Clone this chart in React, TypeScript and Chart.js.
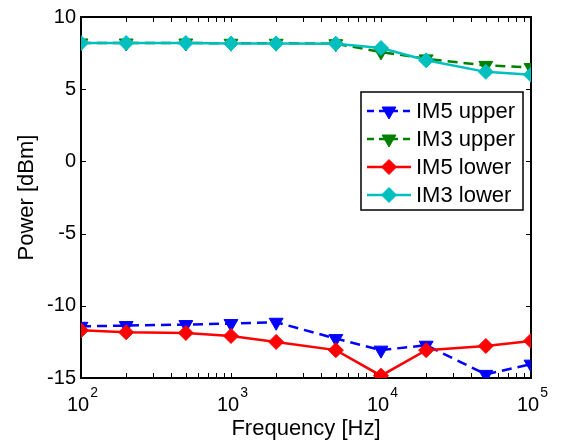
import React, { useEffect, useRef } from 'react';
import { Chart, registerables } from 'chart.js';

Chart.register(...registerables);

const frequencies = [100, 200, 500, 1000, 2000, 5000, 10000, 20000, 50000, 100000];
const im5Upper = [-11.42, -11.37, -11.3, -11.23, -11.14, -12.27, -13.07, -12.73, -14.75, -14.04];
const im3Upper = [8.2, 8.2, 8.2, 8.18, 8.18, 8.15, 7.58, 7.1, 6.65, 6.5];
const im5Lower = [-11.7, -11.83, -11.88, -12.09, -12.5, -13.07, -14.84, -13.07, -12.78, -12.43];
const im3Lower = [8.2, 8.2, 8.2, 8.17, 8.17, 8.15, 7.85, 7.0, 6.2, 6.0];

const seriesLabels = ['IM5 upper', 'IM3 upper', 'IM5 lower', 'IM3 lower'];
const seriesColors = ['#0000ff', '#008000', '#ff0000', '#00bfbf'];
const yTicks = [-15, -10, -5, 0, 5, 10];
const xDecades = [100, 1000, 10000, 100000];
const xExponents = ['2', '3', '4', '5'];
const xLabel = 'Frequency [Hz]';
const yLabel = 'Power [dBm]';

const FONT = '"Liberation Sans", Arial, Helvetica, sans-serif';
const DASH = [10, 6];

function drawMarker(ctx: CanvasRenderingContext2D, style: string, x: number, y: number, r: number, color: string) {
  ctx.save();
  ctx.setLineDash([]);
  ctx.fillStyle = color;
  ctx.strokeStyle = color;
  ctx.lineWidth = 1;
  ctx.beginPath();
  if (style === 'triangle') {
    const h = Math.sin(Math.PI / 3) * r;
    ctx.moveTo(x, y + r);
    ctx.lineTo(x - h, y - r / 2);
    ctx.lineTo(x + h, y - r / 2);
  } else {
    ctx.moveTo(x, y - r);
    ctx.lineTo(x + r, y);
    ctx.lineTo(x, y + r);
    ctx.lineTo(x - r, y);
  }
  ctx.closePath();
  ctx.fill();
  ctx.stroke();
  ctx.restore();
}

const matlabPlugin = {
  id: 'matlabBox',
  beforeDatasetsDraw(chart: any) {
    const { ctx, chartArea: a, scales } = chart;
    const xs = scales.x;
    const ys = scales.y;
    ctx.save();
    ctx.strokeStyle = '#000';
    ctx.lineWidth = 1;
    const tl = 5;
    ctx.beginPath();
    for (const v of yTicks) {
      const py = Math.round(ys.getPixelForValue(v)) + 0.5;
      ctx.moveTo(a.left, py);
      ctx.lineTo(a.left + tl, py);
      ctx.moveTo(a.right, py);
      ctx.lineTo(a.right - tl, py);
    }
    for (let i = 0; i < xDecades.length; i++) {
      const base = xDecades[i];
      const maxM = i === xDecades.length - 1 ? 1 : 9;
      for (let m = 1; m <= maxM; m++) {
        const px = Math.round(xs.getPixelForValue(base * m)) + 0.5;
        ctx.moveTo(px, a.bottom);
        ctx.lineTo(px, a.bottom - tl);
        ctx.moveTo(px, a.top);
        ctx.lineTo(px, a.top + tl);
      }
    }
    ctx.stroke();
    ctx.lineWidth = 2;
    ctx.strokeRect(a.left, a.top, a.right - a.left, a.bottom - a.top);

    // x tick labels with superscripts
    ctx.fillStyle = '#000';
    ctx.textBaseline = 'alphabetic';
    ctx.textAlign = 'left';
    for (let i = 0; i < xDecades.length; i++) {
      const px = xs.getPixelForValue(xDecades[i]);
      ctx.font = `20px ${FONT}`;
      const wb = ctx.measureText('10').width;
      ctx.font = `14px ${FONT}`;
      const we = ctx.measureText(xExponents[i]).width;
      const x0 = px - (wb + we) / 2 + 1;
      ctx.font = `20px ${FONT}`;
      ctx.fillText('10', x0, a.bottom + 33);
      ctx.font = `14px ${FONT}`;
      ctx.fillText(xExponents[i], x0 + wb + 1, a.bottom + 19);
    }
    ctx.restore();
  },
  afterDraw(chart: any) {
    const { ctx } = chart;
    const bx = 361, by = 92, bw = 162, bh = 118;
    ctx.save();
    ctx.fillStyle = '#fff';
    ctx.fillRect(bx, by, bw, bh);
    ctx.strokeStyle = '#000';
    ctx.lineWidth = 1.5;
    ctx.strokeRect(bx, by, bw, bh);
    const rows = [111, 139, 167, 195];
    chart.data.datasets.forEach((ds: any, i: number) => {
      const y = rows[i];
      ctx.save();
      ctx.strokeStyle = ds.borderColor;
      ctx.lineWidth = 2.5;
      ctx.setLineDash(ds.borderDash && ds.borderDash.length ? [7, 5] : []);
      ctx.beginPath();
      ctx.moveTo(367, y);
      ctx.lineTo(411, y);
      ctx.stroke();
      ctx.restore();
      drawMarker(ctx, ds.pointStyle === 'triangle' ? 'triangle' : 'diamond', 389, y, ds.pointStyle === 'triangle' ? 8 : 7.5, ds.borderColor);
      ctx.fillStyle = '#000';
      ctx.font = `22px ${FONT}`;
      ctx.textBaseline = 'middle';
      ctx.textAlign = 'left';
      ctx.fillText(ds.label, 416, y + 1);
    });
    ctx.restore();
  },
};

export default function App() {
  const ref = useRef<HTMLCanvasElement>(null);
  useEffect(() => {
    if (!ref.current) return;
    Chart.defaults.font.family = FONT;
    Chart.defaults.color = '#000';
    const mk = (i: number, data: number[], dashed: boolean, tri: boolean, order: number) => ({
      label: seriesLabels[i],
      data: frequencies.map((f, k) => ({ x: f, y: data[k] })),
      borderColor: seriesColors[i],
      backgroundColor: seriesColors[i],
      pointBackgroundColor: seriesColors[i],
      pointBorderColor: seriesColors[i],
      borderWidth: 2.5,
      borderDash: dashed ? DASH : [],
      pointStyle: tri ? 'triangle' : 'rectRot',
      pointRotation: tri ? 180 : 0,
      pointRadius: tri ? 8 : 7.5,
      pointBorderWidth: 1,
      tension: 0,
      order,
    });
    const chart = new Chart(ref.current, {
      type: 'line',
      data: {
        datasets: [
          mk(0, im5Upper, true, true, 4),
          mk(1, im3Upper, true, true, 3),
          mk(2, im5Lower, false, false, 2),
          mk(3, im3Lower, false, false, 1),
        ],
      },
      options: {
        animation: false,
        responsive: false,
        devicePixelRatio: 1,
        layout: { padding: { top: 15, right: 31, left: 0, bottom: 0 } },
        plugins: { legend: { display: false }, tooltip: { enabled: false } },
        scales: {
          x: {
            type: 'logarithmic',
            min: 100,
            max: 100000,
            grid: { display: false, drawTicks: false },
            border: { display: false },
            ticks: { display: false },
            title: { display: true, text: xLabel, font: { size: 22 }, padding: { top: 0, bottom: 1 } },
            afterFit: (s: any) => { s.height = 65; },
          },
          y: {
            min: -15,
            max: 10,
            grid: { display: false, drawTicks: false },
            border: { display: false },
            ticks: { stepSize: 5, padding: 5, font: { size: 20 }, callback: (v: any) => (yTicks.includes(v) ? String(v) : '') },
            title: { display: true, text: yLabel, font: { size: 22 }, padding: { top: 14, bottom: 0 } },
            afterFit: (s: any) => { s.width = 81; },
          },
        },
      } as any,
      plugins: [matlabPlugin],
    });
    return () => chart.destroy();
  }, []);
  return (
    <div style={{ position: 'fixed', left: 0, top: 0, width: 562, height: 443, background: '#fff' }}>
      <canvas ref={ref} width={562} height={443} style={{ width: 562, height: 443 }} />
    </div>
  );
}
